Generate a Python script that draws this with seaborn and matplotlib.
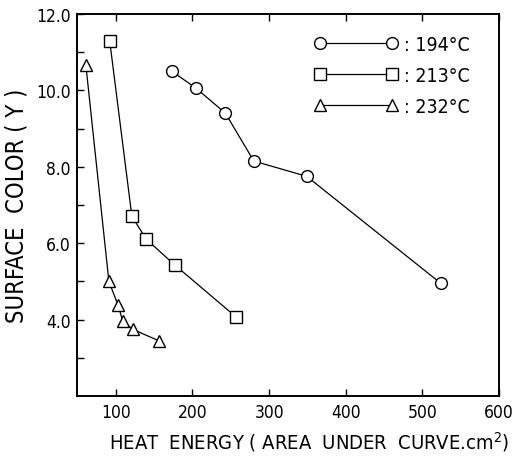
import matplotlib
matplotlib.use("Agg")
import matplotlib.pyplot as plt
import seaborn as sns
import pandas as pd

# ---- data ----
x_194 = [173, 205, 243, 280, 349, 524]
y_194 = [10.5, 10.05, 9.4, 8.15, 7.75, 4.95]
x_213 = [92, 121, 140, 177, 257]
y_213 = [11.3, 6.7, 6.1, 5.43, 4.07]
x_232 = [61, 91, 103, 109, 122, 156]
y_232 = [10.65, 5.0, 4.38, 3.97, 3.75, 3.45]
series_labels = [": 194°C", ": 213°C", ": 232°C"]
x_ticks = [100, 200, 300, 400, 500, 600]
y_ticks = [4.0, 6.0, 8.0, 10.0, 12.0]

frames = []
for lab, xs, ys in zip(series_labels, [x_194, x_213, x_232], [y_194, y_213, y_232]):
    frames.append(pd.DataFrame({"x": xs, "y": ys, "temp": lab}))
df = pd.concat(frames, ignore_index=True)

sns.set_style("ticks")
plt.rcParams["font.family"] = ["DejaVu Sans"]
plt.rcParams["font.stretch"] = "condensed"
plt.rcParams["text.color"] = "black"
plt.rcParams["axes.labelcolor"] = "black"
plt.rcParams["xtick.color"] = "black"
plt.rcParams["ytick.color"] = "black"

fig = plt.figure(figsize=(5.13, 4.64), dpi=100)
ax = fig.add_axes([0.151, 0.144, 0.822, 0.824])

sns.lineplot(data=df, x="x", y="y", hue="temp", style="temp",
             palette=["black"] * 3, markers=["o", "s", "^"], dashes=False,
             sort=False, legend=False, ax=ax, linewidth=0.9,
             markersize=8.5, markerfacecolor="white", markeredgecolor="black",
             markeredgewidth=1.0)

ax.set_xlim(50, 600)
ax.set_ylim(2.0, 12.0)
ax.set_xticks(x_ticks)
ax.set_xticklabels([str(v) for v in x_ticks])
yt = [3, 4, 5, 6, 7, 8, 9, 10, 11, 12]
ax.set_yticks(yt)
ax.set_yticklabels([f"{v:.1f}" if v in y_ticks else "" for v in yt])
ax.tick_params(direction="in", length=5, width=1, labelsize=12.5, top=True, right=False, pad=5)
for s in ax.spines.values():
    s.set_linewidth(1.4)
    s.set_color("black")

ax.set_xlabel("HEAT  ENERGY ( AREA  UNDER  CURVE.cm$^2$)", fontsize=14.5)
ax.xaxis.set_label_coords(0.55, -0.085)
ax.set_ylabel("SURFACE  COLOR ( Y )", fontsize=17, labelpad=5)

handles = ax.get_lines()[:3]
ax.legend(handles, series_labels, loc="upper right", frameon=False, numpoints=2,
          handlelength=4.3, fontsize=14, bbox_to_anchor=(0.971, 0.99),
          labelspacing=0.6, handletextpad=0.3)

fig.savefig("out.png", dpi=100)
